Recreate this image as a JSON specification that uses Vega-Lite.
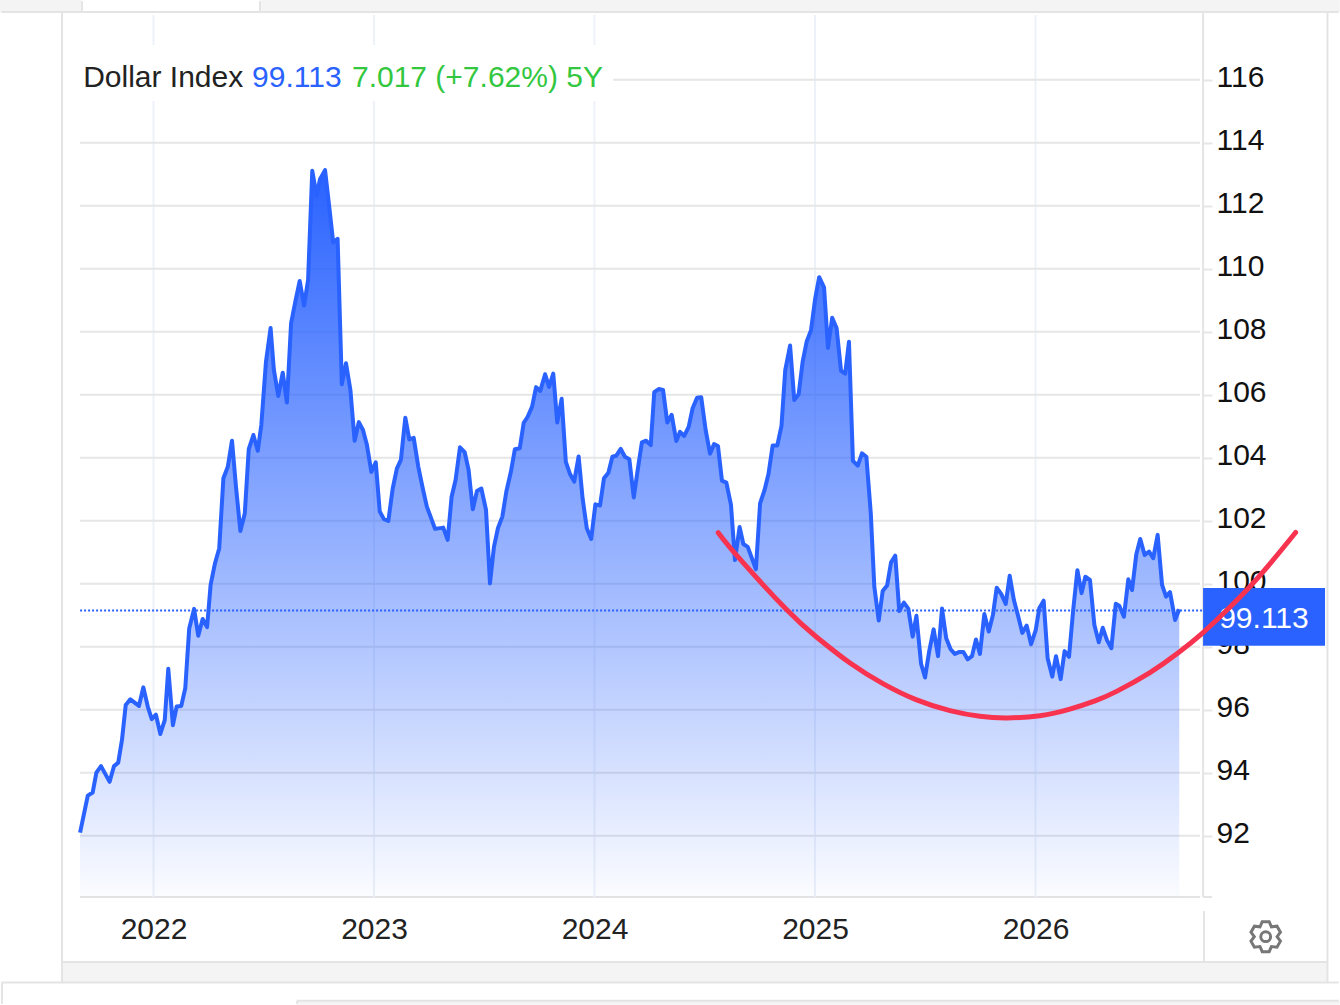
{
  "$schema": "https://vega.github.io/schema/vega-lite/v6.json",
  "width": 1340,
  "height": 1005,
  "autosize": {"type": "fit", "contains": "padding"},
  "padding": 0,
  "background": "white",
  "config": {"view": {"stroke": null}},
  "datasets": {
    "strips": [
      {"year": 2021.304, "year2": 2021.676, "value": 118.53, "value2": 118.149},
      {"year": 2022.483, "year2": 2027.38, "value": 118.53, "value2": 118.149},
      {"year": 2021.585, "year2": 2027.324, "value": 87.99, "value2": 87.34},
      {"year": 2022.651, "year2": 2027.38, "value": 86.762, "value2": 86.63}
    ],
    "frame": [
      {"year": 2021.31, "year2": 2027.375, "value": 118.149, "value2": 118.149},
      {"year": 2021.585, "year2": 2021.585, "value": 118.149, "value2": 87.34},
      {"year": 2027.324, "year2": 2027.324, "value": 118.149, "value2": 87.34},
      {"year": 2021.667, "year2": 2026.746, "value": 90.054, "value2": 90.054},
      {"year": 2026.76, "year2": 2026.8, "value": 90.054, "value2": 90.054},
      {"year": 2026.76, "year2": 2026.76, "value": 118.149, "value2": 90.054},
      {"year": 2026.764, "year2": 2026.764, "value": 89.61, "value2": 87.99},
      {"year": 2021.585, "year2": 2027.324, "value": 87.99, "value2": 87.99},
      {"year": 2021.31, "year2": 2027.375, "value": 87.34, "value2": 87.34},
      {"year": 2021.676, "year2": 2021.676, "value": 118.49, "value2": 118.149},
      {"year": 2022.483, "year2": 2022.483, "value": 118.49, "value2": 118.149},
      {"year": 2021.313, "year2": 2021.313, "value": 87.34, "value2": 86.66},
      {"year": 2022.651, "year2": 2027.375, "value": 86.762, "value2": 86.762},
      {"year": 2022.651, "year2": 2022.651, "value": 86.762, "value2": 86.66}
    ],
    "hgrid": [
      {"value": 92, "year": 2021.667, "year2": 2026.746},
      {"value": 94, "year": 2021.667, "year2": 2026.746},
      {"value": 96, "year": 2021.667, "year2": 2026.746},
      {"value": 98, "year": 2021.667, "year2": 2026.746},
      {"value": 100, "year": 2021.667, "year2": 2026.746},
      {"value": 102, "year": 2021.667, "year2": 2026.746},
      {"value": 104, "year": 2021.667, "year2": 2026.746},
      {"value": 106, "year": 2021.667, "year2": 2026.746},
      {"value": 108, "year": 2021.667, "year2": 2026.746},
      {"value": 110, "year": 2021.667, "year2": 2026.746},
      {"value": 112, "year": 2021.667, "year2": 2026.746},
      {"value": 114, "year": 2021.667, "year2": 2026.746},
      {"value": 116, "year": 2024.084, "year2": 2026.746}
    ],
    "vgrid": [
      {"year": 2022, "value": 90.054, "value2": 115.324},
      {"year": 2022, "value": 117.102, "value2": 118.054},
      {"year": 2023, "value": 90.054, "value2": 115.324},
      {"year": 2023, "value": 117.102, "value2": 118.054},
      {"year": 2024, "value": 90.054, "value2": 115.324},
      {"year": 2024, "value": 117.102, "value2": 118.054},
      {"year": 2025, "value": 90.054, "value2": 118.054},
      {"year": 2026, "value": 90.054, "value2": 118.054}
    ],
    "index": [
      {"year": 2021.667, "value": 92.1}, {"year": 2021.702, "value": 93.27}, {"year": 2021.724, "value": 93.37},
      {"year": 2021.741, "value": 94.0}, {"year": 2021.762, "value": 94.21}, {"year": 2021.801, "value": 93.71},
      {"year": 2021.821, "value": 94.21}, {"year": 2021.84, "value": 94.32}, {"year": 2021.857, "value": 95.04},
      {"year": 2021.874, "value": 96.15}, {"year": 2021.895, "value": 96.33}, {"year": 2021.934, "value": 96.12},
      {"year": 2021.954, "value": 96.71}, {"year": 2021.974, "value": 96.1}, {"year": 2021.992, "value": 95.7},
      {"year": 2022.011, "value": 95.84}, {"year": 2022.031, "value": 95.23}, {"year": 2022.051, "value": 95.67},
      {"year": 2022.067, "value": 97.3}, {"year": 2022.088, "value": 95.51}, {"year": 2022.105, "value": 96.1},
      {"year": 2022.126, "value": 96.12}, {"year": 2022.144, "value": 96.68}, {"year": 2022.162, "value": 98.58},
      {"year": 2022.184, "value": 99.2}, {"year": 2022.203, "value": 98.35}, {"year": 2022.223, "value": 98.88},
      {"year": 2022.243, "value": 98.62}, {"year": 2022.259, "value": 99.96}, {"year": 2022.279, "value": 100.65},
      {"year": 2022.298, "value": 101.12}, {"year": 2022.317, "value": 103.35}, {"year": 2022.337, "value": 103.71},
      {"year": 2022.356, "value": 104.54}, {"year": 2022.374, "value": 103.08}, {"year": 2022.394, "value": 101.67},
      {"year": 2022.414, "value": 102.23}, {"year": 2022.432, "value": 104.27}, {"year": 2022.453, "value": 104.72},
      {"year": 2022.473, "value": 104.22}, {"year": 2022.489, "value": 105.04}, {"year": 2022.51, "value": 107.04},
      {"year": 2022.531, "value": 108.12}, {"year": 2022.546, "value": 106.78}, {"year": 2022.566, "value": 105.96},
      {"year": 2022.586, "value": 106.7}, {"year": 2022.605, "value": 105.75}, {"year": 2022.624, "value": 108.27},
      {"year": 2022.643, "value": 108.95}, {"year": 2022.663, "value": 109.61}, {"year": 2022.683, "value": 108.83},
      {"year": 2022.701, "value": 109.64}, {"year": 2022.72, "value": 113.11}, {"year": 2022.74, "value": 112.31},
      {"year": 2022.755, "value": 112.84}, {"year": 2022.778, "value": 113.13}, {"year": 2022.797, "value": 111.97},
      {"year": 2022.815, "value": 110.83}, {"year": 2022.835, "value": 110.95}, {"year": 2022.854, "value": 106.33},
      {"year": 2022.873, "value": 107.0}, {"year": 2022.893, "value": 106.15}, {"year": 2022.912, "value": 104.54},
      {"year": 2022.931, "value": 105.13}, {"year": 2022.95, "value": 104.88}, {"year": 2022.968, "value": 104.4},
      {"year": 2022.988, "value": 103.55}, {"year": 2023.008, "value": 103.85}, {"year": 2023.026, "value": 102.29},
      {"year": 2023.045, "value": 102.05}, {"year": 2023.065, "value": 101.99}, {"year": 2023.085, "value": 103.03},
      {"year": 2023.104, "value": 103.66}, {"year": 2023.122, "value": 103.93}, {"year": 2023.142, "value": 105.27},
      {"year": 2023.16, "value": 104.58}, {"year": 2023.18, "value": 104.63}, {"year": 2023.201, "value": 103.71},
      {"year": 2023.221, "value": 103.03}, {"year": 2023.24, "value": 102.44}, {"year": 2023.259, "value": 102.08},
      {"year": 2023.277, "value": 101.74}, {"year": 2023.314, "value": 101.78}, {"year": 2023.334, "value": 101.39},
      {"year": 2023.352, "value": 102.76}, {"year": 2023.37, "value": 103.29}, {"year": 2023.39, "value": 104.33},
      {"year": 2023.411, "value": 104.18}, {"year": 2023.429, "value": 103.61}, {"year": 2023.448, "value": 102.36},
      {"year": 2023.467, "value": 102.94}, {"year": 2023.487, "value": 103.02}, {"year": 2023.508, "value": 102.34},
      {"year": 2023.526, "value": 100.01}, {"year": 2023.544, "value": 101.17}, {"year": 2023.562, "value": 101.76},
      {"year": 2023.582, "value": 102.13}, {"year": 2023.6, "value": 102.92}, {"year": 2023.621, "value": 103.56},
      {"year": 2023.639, "value": 104.27}, {"year": 2023.661, "value": 104.3}, {"year": 2023.679, "value": 105.11},
      {"year": 2023.697, "value": 105.3}, {"year": 2023.717, "value": 105.62}, {"year": 2023.735, "value": 106.24},
      {"year": 2023.754, "value": 106.12}, {"year": 2023.776, "value": 106.65}, {"year": 2023.794, "value": 106.25},
      {"year": 2023.813, "value": 106.67}, {"year": 2023.831, "value": 105.12}, {"year": 2023.851, "value": 105.87},
      {"year": 2023.87, "value": 103.87}, {"year": 2023.889, "value": 103.48}, {"year": 2023.908, "value": 103.24},
      {"year": 2023.928, "value": 104.04}, {"year": 2023.946, "value": 102.71}, {"year": 2023.965, "value": 101.76},
      {"year": 2023.985, "value": 101.42}, {"year": 2024.004, "value": 102.52}, {"year": 2024.025, "value": 102.48},
      {"year": 2024.043, "value": 103.35}, {"year": 2024.063, "value": 103.52}, {"year": 2024.081, "value": 104.03},
      {"year": 2024.098, "value": 104.06}, {"year": 2024.119, "value": 104.28}, {"year": 2024.138, "value": 104.03},
      {"year": 2024.158, "value": 103.95}, {"year": 2024.178, "value": 102.74}, {"year": 2024.197, "value": 103.66},
      {"year": 2024.215, "value": 104.49}, {"year": 2024.234, "value": 104.54}, {"year": 2024.255, "value": 104.4},
      {"year": 2024.271, "value": 106.08}, {"year": 2024.291, "value": 106.18}, {"year": 2024.311, "value": 106.15},
      {"year": 2024.33, "value": 105.12}, {"year": 2024.35, "value": 105.36}, {"year": 2024.371, "value": 104.53},
      {"year": 2024.388, "value": 104.82}, {"year": 2024.407, "value": 104.69}, {"year": 2024.427, "value": 104.98},
      {"year": 2024.445, "value": 105.57}, {"year": 2024.465, "value": 105.9}, {"year": 2024.484, "value": 105.92},
      {"year": 2024.504, "value": 104.88}, {"year": 2024.524, "value": 104.13}, {"year": 2024.542, "value": 104.43},
      {"year": 2024.56, "value": 104.37}, {"year": 2024.578, "value": 103.27}, {"year": 2024.598, "value": 103.21},
      {"year": 2024.619, "value": 102.5}, {"year": 2024.637, "value": 100.75}, {"year": 2024.658, "value": 101.8},
      {"year": 2024.675, "value": 101.26}, {"year": 2024.695, "value": 101.17}, {"year": 2024.732, "value": 100.46},
      {"year": 2024.751, "value": 102.55}, {"year": 2024.771, "value": 102.97}, {"year": 2024.789, "value": 103.48},
      {"year": 2024.808, "value": 104.39}, {"year": 2024.829, "value": 104.39}, {"year": 2024.848, "value": 105.01},
      {"year": 2024.865, "value": 106.78}, {"year": 2024.887, "value": 107.56}, {"year": 2024.906, "value": 105.83},
      {"year": 2024.926, "value": 106.02}, {"year": 2024.944, "value": 107.05}, {"year": 2024.962, "value": 107.68},
      {"year": 2024.982, "value": 108.05}, {"year": 2025.001, "value": 109.06}, {"year": 2025.019, "value": 109.73},
      {"year": 2025.041, "value": 109.41}, {"year": 2025.059, "value": 107.49}, {"year": 2025.078, "value": 108.44},
      {"year": 2025.098, "value": 108.11}, {"year": 2025.118, "value": 106.76}, {"year": 2025.137, "value": 106.67},
      {"year": 2025.154, "value": 107.68}, {"year": 2025.172, "value": 103.9}, {"year": 2025.194, "value": 103.75},
      {"year": 2025.213, "value": 104.14}, {"year": 2025.233, "value": 104.03}, {"year": 2025.253, "value": 102.23},
      {"year": 2025.269, "value": 99.9}, {"year": 2025.289, "value": 98.83}, {"year": 2025.307, "value": 99.77},
      {"year": 2025.327, "value": 99.94}, {"year": 2025.345, "value": 100.68}, {"year": 2025.364, "value": 100.89},
      {"year": 2025.382, "value": 99.13}, {"year": 2025.403, "value": 99.4}, {"year": 2025.423, "value": 99.21},
      {"year": 2025.443, "value": 98.32}, {"year": 2025.46, "value": 98.98}, {"year": 2025.481, "value": 97.46},
      {"year": 2025.499, "value": 97.02}, {"year": 2025.518, "value": 97.86}, {"year": 2025.538, "value": 98.55},
      {"year": 2025.558, "value": 97.7}, {"year": 2025.576, "value": 99.21}, {"year": 2025.595, "value": 98.27},
      {"year": 2025.615, "value": 97.92}, {"year": 2025.634, "value": 97.77}, {"year": 2025.653, "value": 97.83},
      {"year": 2025.673, "value": 97.83}, {"year": 2025.692, "value": 97.6}, {"year": 2025.712, "value": 97.7},
      {"year": 2025.73, "value": 98.23}, {"year": 2025.748, "value": 97.77}, {"year": 2025.768, "value": 99.04},
      {"year": 2025.788, "value": 98.48}, {"year": 2025.807, "value": 99.01}, {"year": 2025.824, "value": 99.87},
      {"year": 2025.845, "value": 99.67}, {"year": 2025.865, "value": 99.36}, {"year": 2025.883, "value": 100.25},
      {"year": 2025.902, "value": 99.48}, {"year": 2025.922, "value": 98.95}, {"year": 2025.94, "value": 98.44},
      {"year": 2025.96, "value": 98.67}, {"year": 2025.98, "value": 98.08}, {"year": 2026.001, "value": 98.53},
      {"year": 2026.017, "value": 99.22}, {"year": 2026.037, "value": 99.46}, {"year": 2026.055, "value": 97.63},
      {"year": 2026.076, "value": 97.05}, {"year": 2026.093, "value": 97.7}, {"year": 2026.114, "value": 96.97},
      {"year": 2026.132, "value": 97.86}, {"year": 2026.152, "value": 97.68}, {"year": 2026.171, "value": 99.17},
      {"year": 2026.19, "value": 100.43}, {"year": 2026.209, "value": 99.7}, {"year": 2026.226, "value": 100.22},
      {"year": 2026.247, "value": 100.12}, {"year": 2026.267, "value": 98.69}, {"year": 2026.287, "value": 98.14},
      {"year": 2026.305, "value": 98.6}, {"year": 2026.324, "value": 98.21}, {"year": 2026.344, "value": 97.95},
      {"year": 2026.364, "value": 99.36}, {"year": 2026.38, "value": 99.3}, {"year": 2026.401, "value": 98.95},
      {"year": 2026.421, "value": 100.14}, {"year": 2026.438, "value": 99.8}, {"year": 2026.457, "value": 100.93},
      {"year": 2026.475, "value": 101.42}, {"year": 2026.495, "value": 100.91}, {"year": 2026.515, "value": 101.02},
      {"year": 2026.534, "value": 100.81}, {"year": 2026.554, "value": 101.55}, {"year": 2026.574, "value": 99.96},
      {"year": 2026.592, "value": 99.59}, {"year": 2026.61, "value": 99.73}, {"year": 2026.633, "value": 98.85},
      {"year": 2026.652, "value": 99.19}
    ],
    "curve": [
      {"year": 2024.561, "value": 101.62}, {"year": 2024.66, "value": 100.78}, {"year": 2024.872, "value": 99.17},
      {"year": 2025.008, "value": 98.3}, {"year": 2025.159, "value": 97.48}, {"year": 2025.31, "value": 96.82},
      {"year": 2025.461, "value": 96.31}, {"year": 2025.612, "value": 95.97}, {"year": 2025.748, "value": 95.79},
      {"year": 2025.871, "value": 95.74}, {"year": 2026.02, "value": 95.81}, {"year": 2026.156, "value": 96.02},
      {"year": 2026.27, "value": 96.28}, {"year": 2026.37, "value": 96.59}, {"year": 2026.519, "value": 97.18},
      {"year": 2026.646, "value": 97.8}, {"year": 2026.76, "value": 98.45}, {"year": 2026.859, "value": 99.1},
      {"year": 2026.958, "value": 99.8}, {"year": 2027.063, "value": 100.63}, {"year": 2027.18, "value": 101.63}
    ]
  },
  "encoding": {
    "x": {
      "field": "year",
      "type": "quantitative",
      "title": null,
      "scale": {"domain": [2021.30385, 2027.38095], "nice": false, "zero": false},
      "axis": {
        "orient": "bottom",
        "offset": -108,
        "values": [2022, 2023, 2024, 2025, 2026],
        "format": "d",
        "grid": false,
        "domain": false,
        "ticks": false,
        "labelPadding": 17,
        "labelFont": "Liberation Sans",
        "labelFontSize": 30,
        "labelColor": "#222222"
      }
    },
    "y": {
      "field": "value",
      "type": "quantitative",
      "title": null,
      "scale": {"domain": [86.6254, 118.5302], "nice": false, "zero": false},
      "axis": {
        "orient": "right",
        "offset": -137,
        "values": [92, 94, 96, 98, 100, 102, 104, 106, 108, 110, 112, 114, 116],
        "grid": false,
        "domain": false,
        "tickSize": 9,
        "tickColor": "#e6e6e6",
        "tickWidth": 2,
        "labelPadding": 4,
        "labelOffset": -2,
        "labelFont": "Liberation Sans",
        "labelFontSize": 30,
        "labelColor": "#111111"
      }
    }
  },
  "layer": [
    {
      "data": {"name": "strips"},
      "mark": {"type": "rect", "color": "#f4f4f4"},
      "encoding": {"x2": {"field": "year2"}, "y2": {"field": "value2"}}
    },
    {
      "data": {"name": "frame"},
      "mark": {"type": "rule", "color": "#e4e4e4", "strokeWidth": 2},
      "encoding": {"x2": {"field": "year2"}, "y2": {"field": "value2"}}
    },
    {
      "data": {"name": "vgrid"},
      "mark": {"type": "rule", "color": "#edf1f8", "strokeWidth": 2},
      "encoding": {"y2": {"field": "value2"}}
    },
    {
      "data": {"name": "hgrid"},
      "mark": {"type": "rule", "color": "#e6e6e6", "strokeWidth": 2},
      "encoding": {"x2": {"field": "year2"}}
    },
    {
      "data": {"name": "index"},
      "mark": {
        "type": "area",
        "color": {
          "gradient": "linear",
          "x1": 0, "y1": 0, "x2": 0, "y2": 1,
          "stops": [
            {"offset": 0, "color": "rgba(41,98,255,1)"},
            {"offset": 1, "color": "rgba(41,98,255,0.02)"}
          ]
        }
      },
      "encoding": {"y2": {"datum": 90.054}}
    },
    {
      "data": {"values": [{"year": 2021.667, "year2": 2026.76, "value": 99.15}]},
      "mark": {"type": "rule", "color": "#2962ff", "strokeWidth": 2, "strokeDash": [2, 2]},
      "encoding": {"x2": {"field": "year2"}}
    },
    {
      "data": {"name": "index"},
      "mark": {"type": "line", "color": "#2962ff", "strokeWidth": 4, "strokeJoin": "round"},
      "encoding": {}
    },
    {
      "data": {"values": [{"year": 2026.76, "year2": 2027.313, "value": 99.863, "value2": 98.032}]},
      "mark": {"type": "rect", "color": "#2962ff"},
      "encoding": {"x2": {"field": "year2"}, "y2": {"field": "value2"}}
    },
    {
      "data": {"values": [{"year": 2027.036, "value": 98.88, "label": "99.113"}]},
      "mark": {"type": "text", "color": "white", "font": "Liberation Sans", "fontSize": 30, "align": "center", "baseline": "middle"},
      "encoding": {"text": {"field": "label"}}
    },
    {
      "data": {"values": [
        {"year": 2021.681, "value": 115.77, "label": "Dollar Index", "part": "name"},
        {"year": 2022.447, "value": 115.77, "label": "99.113", "part": "last"},
        {"year": 2022.9, "value": 115.77, "label": "7.017 (+7.62%) 5Y", "part": "change"}
      ]},
      "mark": {"type": "text", "font": "Liberation Sans", "fontSize": 30, "align": "left", "baseline": "alphabetic"},
      "encoding": {
        "text": {"field": "label"},
        "color": {
          "field": "part",
          "type": "nominal",
          "scale": {"domain": ["name", "last", "change"], "range": ["#222222", "#2962ff", "#33c73f"]},
          "legend": null
        }
      }
    },
    {
      "data": {"name": "curve"},
      "mark": {"type": "line", "color": "#f8334f", "strokeWidth": 5, "strokeCap": "round", "interpolate": "natural"},
      "encoding": {}
    },
    {
      "data": {"values": [{"year": 2027.044, "value": 88.794}]},
      "mark": {
        "type": "point",
        "filled": false,
        "size": 950,
        "stroke": "#777777",
        "strokeWidth": 3,
        "opacity": 1,
        "shape": "M-.225 -.974L.225 -.974L.37 -.641L.731 -.682L.956 -.292L.74 0L.956 .292L.731 .682L.37 .641L.225 .974L-.225 .974L-.37 .641L-.731 .682L-.956 .292L-.74 0L-.956 -.292L-.731 -.682L-.37 -.641ZM-.32 0A.32 .32 0 1 0 .32 0A.32 .32 0 1 0 -.32 0Z"
      },
      "encoding": {}
    }
  ]
}
